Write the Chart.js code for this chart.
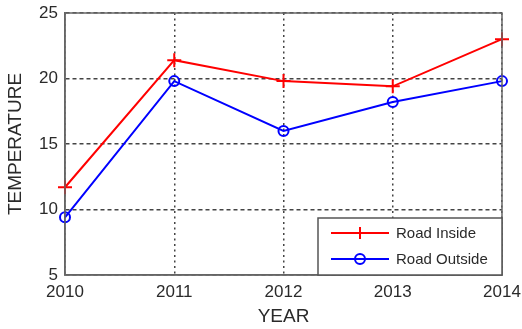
<!DOCTYPE html>
<html>
<head>
<meta charset="utf-8">
<script src="https://cdn.jsdelivr.net/npm/chart.js@4.4.1/dist/chart.umd.min.js"></script>
<style>
    html, body { margin: 0; padding: 0; background: #fff; }
    #wrap { width: 522px; height: 329px; }
</style>
</head>
<body>
<div id="wrap"><canvas id="myChart"></canvas></div>
<script>
const years = ['2010', '2011', '2012', '2013', '2014'];
const roadInside = [11.7, 21.4, 19.8, 19.4, 23.0];
const roadOutside = [9.4, 19.8, 16.0, 18.2, 19.8];
const yTicks = [5, 10, 15, 20, 25];

const textColor = '#2a2a2a';
const axisColor = '#666';
const gridColor = '#444';
const font = '"Liberation Sans", Arial, sans-serif';

// fixed axis sizes; drop the label overflow padding so layout.padding decides the plot edges
const fixSize = (w, h) => (scale) => {
    if (w) scale.width = w;
    if (h) scale.height = h;
    scale.paddingTop = scale.paddingBottom = 0;
    scale.paddingLeft = scale.paddingRight = 0;
};

// box round the plot, all four sides solid
const axesBox = {
    id: 'axesBox',
    afterDraw(chart) {
        const {ctx, chartArea: a} = chart;
        ctx.save();
        ctx.strokeStyle = axisColor;
        ctx.lineWidth = 1.5;
        ctx.setLineDash([]);
        ctx.strokeRect(a.left, a.top, a.right - a.left, a.bottom - a.top);
        ctx.restore();
    }
};

// legend sits inside the plot, lower right corner
const boxLegend = {
    id: 'boxLegend',
    afterDraw(chart) {
        const {ctx, chartArea: a} = chart;
        const w = 184, h = 57;
        const x = a.right - w, y = a.bottom - h;
        ctx.save();
        ctx.fillStyle = '#fff';
        ctx.fillRect(x, y, w, h);
        ctx.strokeStyle = '#555';
        ctx.lineWidth = 1.5;
        ctx.strokeRect(x, y, w, h);

        chart.data.datasets.forEach((ds, i) => {
            const ly = y + 15 + i * 26;
            const x0 = x + 13, x1 = x + 71, xm = (x0 + x1) / 2;
            ctx.strokeStyle = ds.borderColor;
            ctx.lineWidth = 2;
            ctx.beginPath();
            ctx.moveTo(x0, ly);
            ctx.lineTo(x1, ly);
            ctx.stroke();
            ctx.beginPath();
            if (ds.pointStyle === 'cross') {
                ctx.moveTo(xm, ly - 6);
                ctx.lineTo(xm, ly + 6);
            } else {
                ctx.arc(xm, ly, 5, 0, Math.PI * 2);
            }
            ctx.stroke();

            ctx.fillStyle = textColor;
            ctx.font = '15px ' + font;
            ctx.textBaseline = 'middle';
            ctx.textAlign = 'left';
            ctx.fillText(ds.label, x + 78, ly + 1);
        });
        ctx.restore();
    }
};

const ctx = document.getElementById('myChart');

new Chart(ctx, {
    type: 'line',
    data: {
        labels: years,
        datasets: [
            {
                label: 'Road Inside',
                data: roadInside,
                borderColor: '#ff0000',
                backgroundColor: '#ff0000',
                borderWidth: 2,
                pointStyle: 'cross',
                pointRadius: 7,
                pointBorderWidth: 2,
                tension: 0,
                clip: false
            },
            {
                label: 'Road Outside',
                data: roadOutside,
                borderColor: '#0000ff',
                backgroundColor: 'rgba(0,0,0,0)',
                borderWidth: 2,
                pointStyle: 'circle',
                pointRadius: 5,
                pointBorderWidth: 2,
                tension: 0,
                clip: false
            }
        ]
    },
    options: {
        responsive: true,
        maintainAspectRatio: false,
        animation: false,
        layout: { autoPadding: false, padding: { top: 13, right: 20, bottom: 0, left: 0 } },
        plugins: {
            legend: { display: false },
            tooltip: { enabled: false }
        },
        scales: {
            x: {
                offset: false,
                afterFit: fixSize(0, 54),
                grid: {
                    offset: false,
                    color: gridColor,
                    lineWidth: 1.5,
                    drawTicks: false
                },
                // in v4 border.dash also dashes the grid lines
                border: { color: axisColor, width: 1.5, dash: [2, 3.5] },
                ticks: {
                    color: textColor,
                    padding: 7,
                    maxRotation: 0,
                    font: { family: font, size: 17 }
                },
                title: {
                    display: true,
                    text: 'YEAR',
                    color: textColor,
                    padding: { top: 0, bottom: 1 },
                    font: { family: font, size: 19 }
                }
            },
            y: {
                min: 5,
                max: 25,
                afterFit: fixSize(65, 0),
                afterBuildTicks: (scale) => {
                    scale.ticks = yTicks.map(v => ({ value: v }));
                },
                grid: {
                    color: gridColor,
                    lineWidth: 1.5,
                    drawTicks: false
                },
                border: { color: axisColor, width: 1.5, dash: [4, 3] },
                ticks: {
                    color: textColor,
                    padding: 7,
                    font: { family: font, size: 17 }
                },
                title: {
                    display: true,
                    text: 'TEMPERATURE',
                    color: textColor,
                    padding: { top: 4, bottom: 0 },
                    font: { family: font, size: 19 }
                }
            }
        }
    },
    plugins: [axesBox, boxLegend]
});
</script>
</body>
</html>
